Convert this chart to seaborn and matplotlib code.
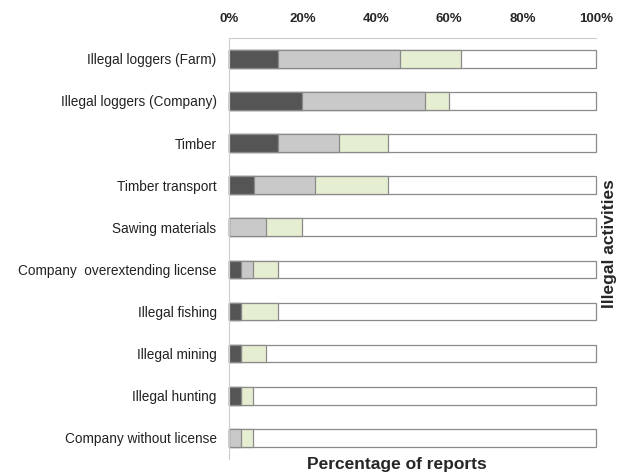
import numpy as np
import pandas as pd
import seaborn as sns
import matplotlib.pyplot as plt

activities = ["Illegal loggers (Farm)", "Illegal loggers (Company)", "Timber",
              "Timber transport", "Sawing materials", "Company  overextending license",
              "Illegal fishing", "Illegal mining", "Illegal hunting",
              "Company without license"]
# share of reports per activity (%), four stacked groups
dark = [13.3, 20.0, 13.3, 6.7, 0.0, 3.3, 3.3, 3.3, 3.3, 0.0]
grey = [33.3, 33.3, 16.7, 16.7, 10.0, 3.3, 0.0, 0.0, 0.0, 3.3]
green = [16.7, 6.7, 13.3, 20.0, 10.0, 6.7, 10.0, 6.7, 3.3, 3.3]
white = [36.7, 40.0, 56.7, 56.6, 80.0, 86.7, 86.7, 90.0, 93.4, 93.4]

df = pd.DataFrame({"activity": activities, "dark": dark, "grey": grey,
                   "green": green, "white": white})
df["c1"] = df["dark"]
df["c2"] = df["c1"] + df["grey"]
df["c3"] = df["c2"] + df["green"]
df["c4"] = df["c3"] + df["white"]

sns.set_style("white")
plt.rcParams["font.family"] = ["Liberation Sans", "DejaVu Sans"]

fig = plt.figure(figsize=(6.24, 4.73), dpi=100)
ax = fig.add_axes([0.367, 0.03, 0.588, 0.89])

layers = [("c4", "white"), ("c3", "#e8f3cc"), ("c2", "#c9c9c9"), ("c1", "#555555")]
for col, colour in layers:
    sns.barplot(data=df, x=col, y="activity", color=colour, width=0.42,
                edgecolor="#8a8a8a", linewidth=0.9, ax=ax, orient="h")
for p in ax.patches:
    p.set_clip_on(False)

ax.set_xlim(0, 100)
ax.set_xticks(np.arange(0, 101, 20))
ax.set_xticklabels([f"{t}%" for t in range(0, 101, 20)], fontweight="bold",
                   fontsize=9.5)
ax.xaxis.tick_top()
ax.tick_params(axis="both", length=0)
ax.tick_params(axis="x", pad=9)
ax.tick_params(axis="y", labelsize=9.8, pad=9, labelcolor="#222222")
ax.set_xlabel("")
ax.set_ylabel("")
for side in ["right", "bottom"]:
    ax.spines[side].set_visible(False)
for side in ["left", "top"]:
    ax.spines[side].set_color("#cccccc")
    ax.spines[side].set_linewidth(0.8)

fig.text(0.636, 0.018, "Percentage of reports", ha="center", va="center",
         fontsize=12.5, fontweight="bold")
fig.text(0.976, 0.486, "Illegal activities", ha="center", va="center",
         rotation=90, fontsize=12.5, fontweight="bold")

fig.savefig("out.png", dpi=100)
